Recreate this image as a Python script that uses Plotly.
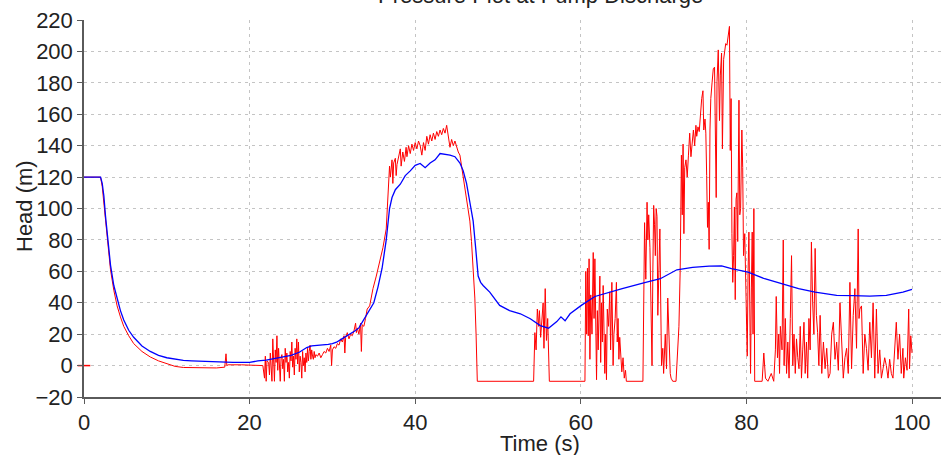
import plotly.graph_objects as go

# ---------------- data ----------------
blue_t = [0, 2.0, 2.2, 2.4, 2.6, 2.8, 3.0, 3.2, 3.6, 4.0, 4.4, 4.8, 5.4, 6.0, 7.0, 8.0,
          9.0, 10.0, 11.0, 12.0, 13.0, 14.0, 16.0, 18.0, 20.0, 21.0, 22.0, 23.0, 24.0,
          25.0, 26.0, 26.9, 27.5, 28.4, 29.0, 29.5, 30.0, 30.5, 31.0, 31.5, 32.2, 32.7,
          33.2, 33.9, 34.5, 35.0, 35.5, 36.0, 36.5, 36.9, 37.2, 37.6, 38.2, 38.8, 39.4,
          40.0, 40.6, 41.2, 41.8, 42.4, 43.0, 43.6, 44.2, 44.8, 45.4, 45.8, 46.2, 46.6,
          47.0, 47.3, 47.6, 47.9, 48.2, 49.0, 50.2, 51.4, 52.7, 53.9, 55.1, 56.1, 57.1,
          57.6, 58.1, 58.7, 60.1, 61.7, 63.5, 65.0, 67.6, 69.6, 71.6, 73.5, 75.5, 77.0,
          78.2, 80.2, 82.2, 84.3, 86.3, 88.3, 90.9, 92.9, 94.9, 96.9, 98.9, 100.0]
blue_h = [120, 120, 116, 108, 95, 83, 72, 64, 51, 42, 35, 29, 22.5, 18, 12.5, 9,
          6.5, 5, 4, 3.3, 3, 2.8, 2.3, 2, 2, 3, 3.5, 4.5, 5.5,
          6.5, 8.5, 11.5, 12.5, 12.8, 13, 13.5, 14, 14.9, 16.5, 18, 20, 22,
          24, 30.5, 36, 40, 50, 62, 80, 100, 107, 112, 115.5, 121, 124,
          127.5, 128.7, 126, 129, 131, 135, 134.5, 134, 133, 129, 124, 116, 104,
          92, 75, 57, 53, 51, 46.8, 38.3, 35, 33, 29.8, 25.5, 23.8, 28,
          31, 28.5, 33, 38.5, 44, 47, 49, 52.6, 55.3, 61, 62.5, 63.3, 63.5,
          61.7, 59.5, 55.3, 52, 49, 46.8, 44.7, 44.5, 44.2, 44.7, 46.8, 48.5]

red_start_t = [0]
red_start_h = [0]

red_t = [0.0, 2.0, 2.2, 2.4, 2.6, 2.8, 3.0, 3.2, 3.6, 4.0, 4.4, 4.8, 5.4, 6.0, 7.0,
         8.0, 9.0, 10.0, 11.0, 12.0, 14.0, 16.0, 17.0, 17.15, 17.25, 17.4, 19.0, 21.0,
         21.6, 21.8, 21.9, 22.0, 22.1, 22.3, 22.4, 22.5, 22.6, 22.7, 22.8, 22.9, 23.0,
         23.1, 23.2, 23.3, 23.4, 23.5, 23.6, 23.7, 23.8, 23.9, 24.0, 24.1, 24.2, 24.3,
         24.4, 24.5, 24.6, 24.7, 24.8, 24.9, 25.0, 25.1, 25.2, 25.3, 25.4, 25.5, 25.6,
         25.7, 25.8, 25.9, 26.0, 26.1, 26.2, 26.3, 26.4, 26.5, 26.6, 26.7, 26.8, 26.9,
         27.0, 27.1, 27.2, 27.3, 27.4, 27.5, 27.6, 27.7, 27.8, 27.9, 28.0, 28.2, 28.4,
         28.6, 28.8, 29.0, 29.2, 29.4, 29.6, 29.8, 29.9, 30.0, 30.2, 30.4, 30.6, 30.8,
         31.0, 31.2, 31.4, 31.5, 31.6, 31.8, 32.0, 32.2, 32.4, 32.6, 32.8, 32.9, 33.0,
         33.2, 33.4, 33.5, 33.6, 33.8, 34.0, 34.2, 34.5, 34.9, 35.3, 35.7, 36.1, 36.5,
         36.7, 36.9, 37.0, 37.2, 37.3, 37.4, 37.6, 37.7, 37.8, 38.0, 38.2, 38.3, 38.5,
         38.7, 38.9, 39.0, 39.2, 39.4, 39.6, 39.8, 40.0, 40.2, 40.4, 40.6, 40.8, 41.0,
         41.2, 41.4, 41.6, 41.8, 42.0, 42.2, 42.4, 42.6, 42.8, 43.0, 43.2, 43.4, 43.6,
         43.8, 44.0, 44.2, 44.4, 44.6, 44.8, 45.0, 45.2, 45.4, 45.6, 45.8, 46.0, 46.2,
         46.4, 46.6, 46.8, 47.0, 47.2, 47.35, 47.5,
         54.3, 54.45, 54.6, 54.75, 54.9, 55.0, 55.15, 55.3, 55.45, 55.55, 55.7, 55.85,
         56.0, 56.2,
         60.5, 60.6, 60.7, 60.8, 60.9, 61.0, 61.1, 61.2, 61.35, 61.5, 61.6, 61.7, 61.8,
         61.9, 62.0, 62.1, 62.3, 62.4, 62.5, 62.6, 62.7, 62.8, 62.9, 63.0, 63.1, 63.2,
         63.35, 63.5, 63.6, 63.75, 63.9, 64.0, 64.15, 64.3, 64.4, 64.5, 64.6, 64.7,
         64.8, 64.95, 65.1, 65.25, 65.4, 65.5,
         67.5, 67.6, 67.7, 67.85, 68.0, 68.1, 68.2, 68.35, 68.5, 68.6, 68.7, 68.8, 68.9,
         69.0, 69.1, 69.2, 69.3, 69.4, 69.55, 69.65, 69.75, 69.9, 70.0, 70.2, 70.35,
         70.5, 70.65, 70.8, 70.9, 71.1, 71.5, 71.7, 71.85, 72.0, 72.15, 72.25, 72.35,
         72.45, 72.55, 72.7, 72.85, 73.0, 73.15, 73.3, 73.45, 73.6, 73.75, 73.9, 74.0,
         74.15, 74.3, 74.45, 74.6, 74.75, 74.85, 75.0, 75.1, 75.2, 75.3, 75.4, 75.5,
         75.6, 75.7, 75.85, 76.0, 76.15, 76.25, 76.35, 76.45, 76.6, 76.75, 76.85, 77.0,
         77.1, 77.25, 77.4, 77.5, 77.65, 77.8, 77.95, 78.05, 78.15, 78.25, 78.35, 78.45,
         78.55, 78.65, 78.75, 78.85, 78.95, 79.1, 79.2, 79.3, 79.45, 79.55, 79.65, 79.8,
         79.9, 80.0, 80.1, 80.2, 80.3, 80.4, 80.5, 80.6, 80.7, 80.8, 80.9, 81.0, 81.1,
         81.9, 82.1, 82.3, 82.6, 83.0, 83.3, 83.5, 83.6, 83.75, 83.9, 84.0, 84.1, 84.3,
         84.45, 84.55, 84.7, 84.85, 85.0, 85.15, 85.3, 85.45, 85.6, 85.75, 85.9, 86.05,
         86.2, 86.35, 86.5, 86.65, 86.8, 86.95, 87.1, 87.25, 87.4, 87.55, 87.7, 87.85,
         88.0, 88.15, 88.3, 88.45, 88.6, 88.75, 88.9, 89.1, 89.3, 89.5, 89.7, 89.9,
         90.1, 90.3, 90.5, 90.7, 90.9, 91.1, 91.3, 91.5, 91.7, 91.9, 92.1, 92.3, 92.5,
         92.7, 92.9, 93.1, 93.3, 93.5, 93.6, 93.7, 93.9, 94.1, 94.3, 94.5, 94.7, 94.9,
         95.1, 95.3, 95.5, 95.7, 95.9, 96.1, 96.3, 96.5, 96.7, 96.9, 97.1, 97.3, 97.5,
         97.7, 97.9, 98.1, 98.3, 98.5, 98.7, 98.9, 99.0, 99.2, 99.4, 99.6, 99.7, 99.85,
         100.0]
red_h = [120, 120, 114, 104, 92, 80, 70, 61, 48, 38, 31, 25, 19, 14, 9,
         5.5, 3, 1, -0.5, -1.2, -1.5, -1.5, -1, 7.5, 0, 0.5, 0.5, 0.3,
         0, -8, 6, -10, 3, 2, -6, 8, 1, -10, 17, 4, -10,
         10, 2, 19, -3, 11, 3, -10, 5, 7, -2, 4, -10, 11,
         2, 8, -4, 2, -8, 9, 3, 15, -1, 6, -6, 11, 4,
         17, 1, 15, -4, 6, 2, -8, 9, 0, 5, -4, 8, 2,
         11, 3, 9, 13, 4, 10, 6, 4, 9, 5, 7, 6, 8,
         5, 7, 9, 8, 11, 9, 13, 0, 10, 12, 11, 14, 13,
         17, 15, 19, 8, 18, 21, 17, 20, 19, 22, 27, 21, 24,
         20, 27, 9, 26, 25, 30, 36, 38, 49, 57, 66, 75, 87,
         104, 127, 120, 131, 116, 129, 132, 121, 128, 134, 138, 127, 136,
         130, 139, 133, 140, 135, 141, 137, 142, 138, 143, 140, 134, 142,
         137, 146, 141, 147, 143, 148, 144, 149, 146, 150, 147, 151, 148,
         153, 147, 139, 144, 140, 143, 139, 136, 134, 127, 119, 114, 106,
         100, 92, 79, 62, 43, 20, -10,
         -10, 21, 10, 36, 25, 35, 18, 32, 40, 11, 49, 16,
         30, -10,
         -10, 60, 20, 62, 19, 68, 4, 45, 20, 72, 30, 68, 10,
         -9, 35, 10, 57, 2, 40, 15, 51, 15, -5, 20, -9, 36,
         25, 47, 10, 53, 0, 20, 30, 53, 15, 30, 4, 18,
         7, -4, 5, -8, -3, -10,
         -10, 60, 91, 55, 104, 80, 96, 75, 20, 0, 60, 102, 90,
         70, 100, 95, 32, 60, 87, 40, 0, 11, -5, 20, -2,
         43, 10, -5, -8, -10, -10, 10, 25, 60, 134, 96, 141,
         84, 126, 131, 120, 134, 148, 133, 142, 150, 140, 153, 146,
         152, 149, 161, 170, 175, 150, 157, 148, 121, 88, 104, 74,
         150, 170, 180, 189, 190, 149, 107, 181, 201, 156, 185, 199,
         138, 195, 200, 205, 204, 210, 216, 137, 170, 84, 53, 70,
         101, 42, 106, 110, 79, 169, 96, 100, 150, 126, 70, 84,
         50, 32, 6, 60, 85, 40, -5, 50, 85, 20, 100, -10, -10,
         -10, 8, -8, -10, -5, -10, 10, 44, 5, 20, -5, 25, 10,
         80, 0, 30, -5, 15, -8, 30, 70, 0, 20, -5, 17,
         5, -2, 25, -8, 10, 27.6, -5, 15, -8, 30, 10, 78.7,
         40, 20, 74.6, 32, 21, 0, 32, -5, 15, -2, 11, -8,
         -5, 20, 27.6, 4, 15, -3, 40, 10, -8, 5, 11, -5, 53,
         -2, 32, 49, 11, 87, 30, 36, 38, -5, 20, 11, -3, 27.6,
         5, 40, -8, 36, -5, 10, -8, -2, 5, 0, -8, 4, -5,
         -8, 8, 27.6, 4, 20, -5, 11, -8, 5, -3, 36, -2, 19,
         8]

x_ticks = [0, 20, 40, 60, 80, 100]
y_ticks = [-20, 0, 20, 40, 60, 80, 100, 120, 140, 160, 180, 200, 220]

title_text = "Pressure Plot at Pump Discharge"
x_title = "Time (s)"
y_title = "Head (m)"

# ---------------- figure ----------------
FONT = "Liberation Sans, Arial, sans-serif"
TXT = "#222222"
AX = "#5a5a5a"
GRID = "#c4c4c4"

fig = go.Figure()
fig.add_trace(go.Scatter(x=red_t, y=red_h, mode="lines",
                         line=dict(color="#ff0000", width=1), showlegend=False))
fig.add_trace(go.Scatter(x=red_start_t, y=red_start_h, mode="markers",
                         marker=dict(symbol="line-ew", size=9,
                                     line=dict(color="#ff0000", width=1.5)),
                         cliponaxis=False, showlegend=False))
fig.add_trace(go.Scatter(x=blue_t, y=blue_h, mode="lines",
                         line=dict(color="#0000ff", width=1.3), showlegend=False))

# plot-area position in window pixels
W, H = 949, 455
L, T, R, B = 84, 20, 949 - 941, 455 - 397
pw, ph = W - L - R, H - T - B


def px_x(p):
    return (p - L) / pw


def px_y(p):
    return (H - B - p) / ph


fig.update_layout(
    width=W, height=H,
    margin=dict(l=L, r=R, t=T, b=B, pad=0),
    paper_bgcolor="white", plot_bgcolor="white",
    font=dict(family=FONT, size=22, color=TXT),
    xaxis=dict(range=[0, 103.5], tickvals=x_ticks, ticks="outside", ticklen=5,
               tickcolor=AX, tickwidth=1, showline=True, linecolor=AX, linewidth=1.5,
               showgrid=True, gridcolor=GRID, gridwidth=1, griddash="3px,4px",
               zeroline=False, tickfont=dict(size=22, color=TXT, family=FONT)),
    yaxis=dict(range=[-20, 220.05], tickvals=y_ticks, ticks="outside", ticklen=5,
               tickcolor=AX, tickwidth=1, showline=True, linecolor=AX, linewidth=1.5,
               showgrid=True, gridcolor=GRID, gridwidth=1, griddash="3px,4px",
               zeroline=False, tickfont=dict(size=22, color=TXT, family=FONT)),
    annotations=[
        dict(text=title_text, xref="paper", yref="paper", x=px_x(540), y=px_y(-4),
             xanchor="center", yanchor="middle", showarrow=False,
             font=dict(size=22, color=TXT, family=FONT)),
        dict(text=x_title, xref="paper", yref="paper", x=px_x(540), y=px_y(443),
             xanchor="center", yanchor="middle", showarrow=False,
             font=dict(size=22, color=TXT, family=FONT)),
        dict(text=y_title, xref="paper", yref="paper", x=px_x(24), y=px_y(206),
             xanchor="center", yanchor="middle", showarrow=False, textangle=-90,
             font=dict(size=22, color=TXT, family=FONT)),
    ],
)

# remove the default 8px page margin so the figure sits at the window's corner
fig.write_html("out.html", config={"displayModeBar": False},
               post_script="document.body.style.margin='0';")
